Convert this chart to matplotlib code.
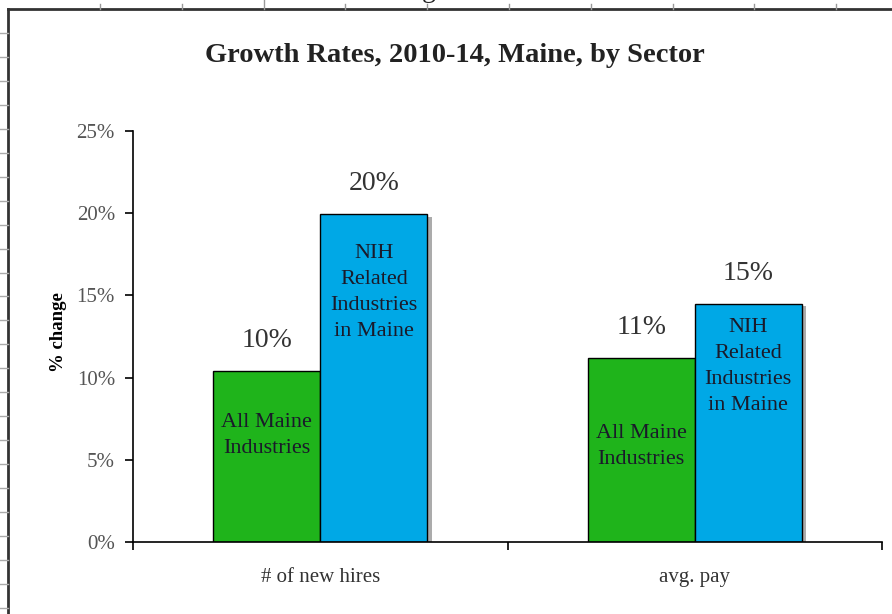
import numpy as np
import matplotlib.pyplot as plt
import matplotlib.patheffects as pe
from matplotlib.lines import Line2D

# data
categories = ['# of new hires', 'avg. pay']
all_maine = [10.4, 11.2]
nih_related = [19.95, 14.5]
all_maine_txt = ['10%', '11%']
nih_txt = ['20%', '15%']
yticks = [0, 5, 10, 15, 20, 25]

# where the in-bar captions sit (data units)
green_cap_y = [6.45, 5.8]
blue_cap_y = [15.2, 10.65]

GREEN = '#1fb41b'
BLUE = '#00a8e6'
SERIF = ['Liberation Serif', 'DejaVu Serif']

plt.rcParams['font.family'] = SERIF

fig = plt.figure(figsize=(8.92, 6.14), dpi=100)
ax = fig.add_axes([133 / 892, 1 - 542 / 614, (882 - 133) / 892, (542 - 131) / 614])

x = np.arange(len(categories)) + 0.5
w = 0.286
shadow = [pe.SimplePatchShadow(offset=(3, -2), shadow_rgbFace='#888888', alpha=0.7), pe.Normal()]

b1 = ax.bar(x - w / 2, all_maine, w, color=GREEN, edgecolor='black', linewidth=1.0)
b2 = ax.bar(x + w / 2, nih_related, w, color=BLUE, edgecolor='black', linewidth=1.0)
for b in list(b1) + list(b2):
    b.set_path_effects(shadow)

# value labels
for xi, v, t in zip(x - w / 2, all_maine, all_maine_txt):
    ax.annotate(t, (xi, v), xytext=(0, 22), textcoords='offset points',
                ha='center', va='center', fontsize=20, color='#333333')
for xi, v, t in zip(x + w / 2, nih_related, nih_txt):
    ax.annotate(t, (xi, v), xytext=(0, 22), textcoords='offset points',
                ha='center', va='center', fontsize=20, color='#333333')

# captions inside bars
for xi, yy in zip(x - w / 2, green_cap_y):
    ax.text(xi, yy, 'All Maine\nIndustries', ha='center', va='center',
            fontsize=16, linespacing=1.5, color='#1a1a2a')
for xi, yy in zip(x + w / 2, blue_cap_y):
    ax.text(xi, yy, 'NIH\nRelated\nIndustries\nin Maine', ha='center', va='center',
            fontsize=16, linespacing=1.5, color='#1a1a2a')

ax.set_xlim(0, 2)
ax.set_ylim(0, 25)
ax.set_yticks(yticks)
ax.set_yticklabels([f'{v}%' for v in yticks], fontsize=15, color='#555555')
ax.set_xticks([0, 1, 2])
ax.set_xticklabels([])
ax.set_xticks(x, minor=True)
ax.set_xticklabels(categories, minor=True, fontsize=15, color='#333333')
ax.tick_params(axis='x', which='minor', length=0, pad=19)
ax.tick_params(axis='x', which='major', length=6, width=1.2, direction='out')
ax.tick_params(axis='y', length=6, width=1.2, direction='out', pad=7)

for s in ['top', 'right']:
    ax.spines[s].set_visible(False)
for s in ['left', 'bottom']:
    ax.spines[s].set_linewidth(1.2)

ax.set_ylabel('% change', fontsize=13.5, fontweight='bold')
ax.yaxis.set_label_coords(-0.088, 0.51)

fig.text(455 / 892, 1 - 55 / 614, 'Growth Rates, 2010-14, Maine, by Sector',
         ha='center', va='center', fontsize=20.5, fontweight='bold', color='#222222')

# page frame / ruler from the source document
W, H = 892, 614
fig.add_artist(Line2D([8 / W, 8 / W], [0, 1 - 9 / H], color='#333333', lw=2))
fig.add_artist(Line2D([8 / W, 1], [1 - 9 / H, 1 - 9 / H], color='#333333', lw=2))
for tx in np.arange(100, 892, 81.8):
    top = 1 if abs(tx - 263) < 5 else 1 - 4 / H
    fig.add_artist(Line2D([tx / W, tx / W], [1 - 9 / H, top], color='#999999', lw=1))
for ty in np.arange(33, 614, 23.95):
    fig.add_artist(Line2D([0, 8 / W], [1 - ty / H, 1 - ty / H], color='#aaaaaa', lw=1))
fig.text(429 / W, 1 + 3 / H, 'g', ha='center', va='baseline', fontsize=20, color='#222222')

fig.savefig('out.png', dpi=100)
